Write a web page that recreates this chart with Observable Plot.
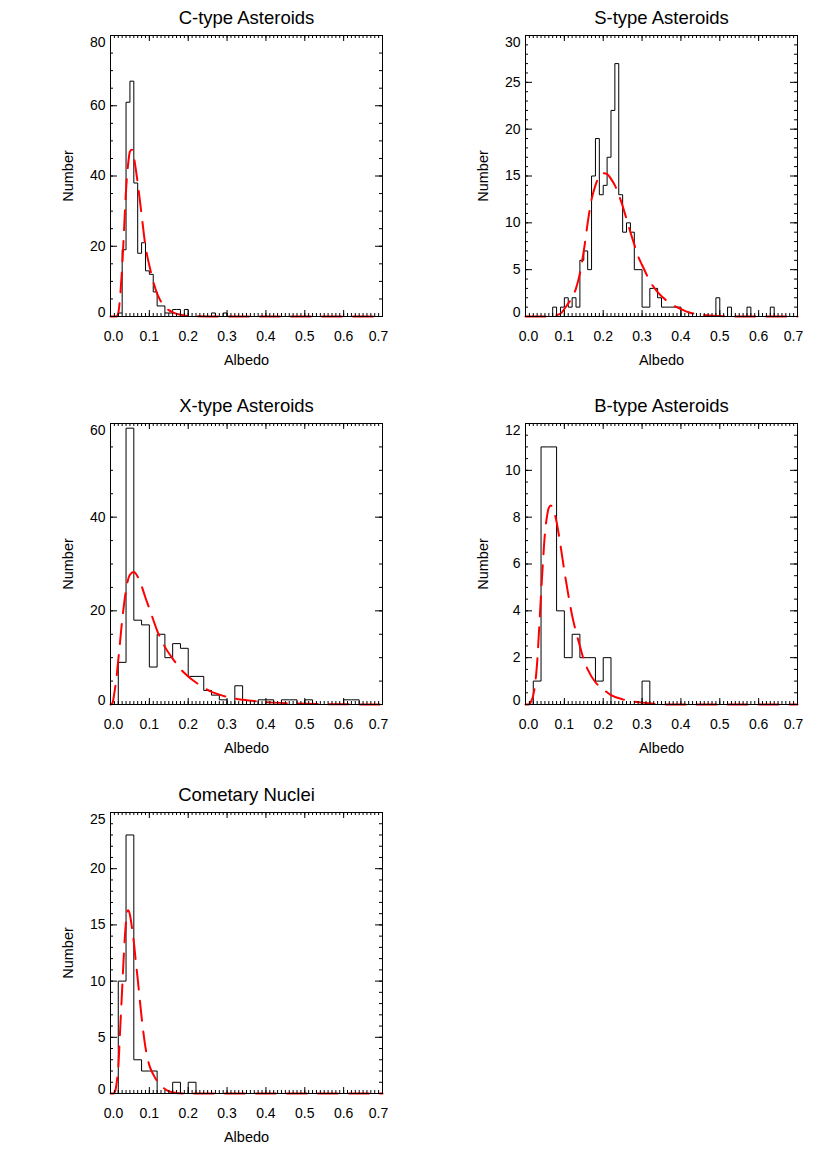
<!DOCTYPE html>
<html><head><meta charset="utf-8">
<script src="https://cdn.jsdelivr.net/npm/d3@7"></script>
<script src="https://cdn.jsdelivr.net/npm/@observablehq/plot@0.6"></script>
<style>
body{margin:0;background:#fff;}
#chart{position:relative;width:830px;height:1163px;font-family:"Liberation Sans",Arial,Helvetica,sans-serif;}
#chart svg{position:absolute;overflow:visible;}
</style></head><body><div id="chart"></div>
<script>
// ---- shared axis values ----
const albedoTicks = [0.0, 0.1, 0.2, 0.3, 0.4, 0.5, 0.6, 0.7];
const albedoTickLabels = ["0.0", "0.1", "0.2", "0.3", "0.4", "0.5", "0.6", "0.7"];
const albedoMinorStep = 0.01;

// ---- C-type (bins of 0.01 starting at 0.00) ----
const cTitle = "C-type Asteroids";
const cBinWidth = 0.01;
const cCounts = [0,0,1,19,61,67,38,18,21,13,12,7,3,3,1,1,2,2,0,2,0,0,0,0,0,0,1,0,0,1,
  0,0,0,0,0,0,0,0,0,0,0,0,0,0,0,0,0,0,0,0,0,0,0,0,0,0,0,0,0,0,0,0,0,0,0,0,0,0,0,0];
const cFitX = [0, 0.015, 0.02, 0.025, 0.03, 0.035, 0.04, 0.045, 0.05, 0.055, 0.06, 0.065, 0.07, 0.08, 0.09, 0.10, 0.11, 0.12, 0.13, 0.14, 0.15, 0.16, 0.18, 0.20, 0.25, 0.70];
const cFitY = [0, 0, 1, 6, 14, 25, 36, 43, 47, 47.5, 45.5, 42, 38, 29, 20, 14.5, 10, 6.5, 4.2, 2.8, 1.8, 1.2, 0.5, 0.15, 0, 0];
const cYTicks = [0, 20, 40, 60, 80];
const cYMinor = 5;

// ---- S-type (bins of 0.01) ----
const sTitle = "S-type Asteroids";
const sBinWidth = 0.01;
const sCounts = [0,0,0,0,0,0,0,1,0,1,2,1,2,1,6,7,5,15,19,13,14,17,22,27,13,9,10,9,5,5,
  1,1,3,3,2,1,1,1,1,1,0,0,0,0,0,0,0,0,0,2,0,0,1,0,0,0,0,1,0,0,0,0,0,1,0,0,0,0,0,0];
const sFitX = [0, 0.06, 0.09, 0.10, 0.11, 0.12, 0.13, 0.14, 0.15, 0.16, 0.17, 0.18, 0.19, 0.20, 0.21, 0.22, 0.23, 0.24, 0.25, 0.26, 0.27, 0.28, 0.29, 0.30, 0.32, 0.34, 0.36, 0.38, 0.40, 0.42, 0.45, 0.50, 0.55, 0.70];
const sFitY = [0, 0, 0.3, 0.8, 1.4, 2.0, 3.0, 4.6, 7.0, 10.0, 12.5, 14.0, 15.0, 15.3, 15.2, 14.7, 14.0, 13.0, 11.8, 10.4, 9.0, 7.7, 6.4, 5.5, 3.8, 2.6, 1.8, 1.2, 0.8, 0.45, 0.2, 0.05, 0, 0];
const sYTicks = [0, 5, 10, 15, 20, 25, 30];
const sYMinor = 1;

// ---- X-type (bins of 0.02) ----
const xTitle = "X-type Asteroids";
const xBinWidth = 0.02;
const xCounts = [0,9,59,18,17,8,15,10,13,12,6,6,3,2,1,0,4,0,0,1,1,0,1,1,0,1,0,0,0,0,1,1,0,0,0];
const xFitX = [0, 0.005, 0.01, 0.015, 0.02, 0.025, 0.03, 0.035, 0.04, 0.05, 0.06, 0.07, 0.08, 0.09, 0.10, 0.12, 0.14, 0.16, 0.18, 0.20, 0.22, 0.24, 0.26, 0.28, 0.30, 0.34, 0.38, 0.42, 0.46, 0.50, 0.55, 0.60, 0.70];
const xFitY = [0, 0.3, 2.5, 5.5, 9.5, 13.7, 18, 21.5, 24.5, 27.7, 28.3, 27.3, 25.3, 22.8, 20.5, 15.8, 12.3, 9.8, 7.6, 6.0, 4.7, 3.6, 2.7, 2.1, 1.6, 1.0, 0.65, 0.4, 0.25, 0.15, 0.08, 0.04, 0];
const xYTicks = [0, 20, 40, 60];
const xYMinor = 5;

// ---- B-type (bins of 0.02) ----
const bTitle = "B-type Asteroids";
const bBinWidth = 0.02;
const bCounts = [0,1,11,11,4,2,3,2,2,1,2,0,0,0,0,1,0,0,0,0,0,0,0,0,0,0,0,0,0,0,0,0,0,0,0];
const bFitX = [0, 0.008, 0.015, 0.02, 0.025, 0.03, 0.035, 0.04, 0.045, 0.05, 0.055, 0.06, 0.065, 0.07, 0.08, 0.09, 0.10, 0.11, 0.12, 0.13, 0.14, 0.15, 0.16, 0.18, 0.20, 0.22, 0.25, 0.28, 0.32, 0.35, 0.70];
const bFitY = [0, 0, 0.15, 0.4, 0.9, 1.8, 3.2, 4.7, 6.1, 7.3, 8.0, 8.4, 8.5, 8.4, 7.8, 6.8, 5.7, 4.7, 3.8, 3.1, 2.5, 1.9, 1.5, 0.95, 0.65, 0.4, 0.22, 0.12, 0.05, 0, 0];
const bYTicks = [0, 2, 4, 6, 8, 10, 12];
const bYMinor = 0.5;

// ---- Cometary nuclei (bins of 0.02) ----
const kTitle = "Cometary Nuclei";
const kBinWidth = 0.02;
const kCounts = [0,10,23,3,2,2,0,0,1,0,1,0,0,0,0,0,0,0,0,0,0,0,0,0,0,0,0,0,0,0,0,0,0,0,0];
const kFitX = [0, 0.008, 0.012, 0.016, 0.02, 0.025, 0.03, 0.035, 0.04, 0.045, 0.05, 0.055, 0.06, 0.065, 0.07, 0.08, 0.09, 0.10, 0.11, 0.12, 0.13, 0.14, 0.15, 0.17, 0.20, 0.70];
const kFitY = [0, 0, 0.2, 1.0, 2.3, 5.8, 9.3, 12.8, 15.3, 16.3, 15.9, 14.8, 13.5, 11.8, 10.2, 6.8, 4.1, 2.5, 1.7, 1.1, 0.7, 0.4, 0.2, 0.05, 0, 0];
const kYTicks = [0, 5, 10, 15, 20, 25];
const kYMinor = 1;

const panels = [
  {title: cTitle, binW: cBinWidth, counts: cCounts, fx: cFitX, fy: cFitY, yTicks: cYTicks, yMinor: cYMinor, left: 0, top: 0},
  {title: sTitle, binW: sBinWidth, counts: sCounts, fx: sFitX, fy: sFitY, yTicks: sYTicks, yMinor: sYMinor, left: 415, top: 0},
  {title: xTitle, binW: xBinWidth, counts: xCounts, fx: xFitX, fy: xFitY, yTicks: xYTicks, yMinor: xYMinor, left: 0, top: 388},
  {title: bTitle, binW: bBinWidth, counts: bCounts, fx: bFitX, fy: bFitY, yTicks: bYTicks, yMinor: bYMinor, left: 415, top: 388},
  {title: kTitle, binW: kBinWidth, counts: kCounts, fx: kFitX, fy: kFitY, yTicks: kYTicks, yMinor: kYMinor, left: 0, top: 777}
];

const W = 415, H = 389, mL = 110, mR = 33, mT = 35, mB = 73;
const FW = W - mL - mR, FH = H - mT - mB;
const FONT = "Liberation Sans, Arial, Helvetica, sans-serif";
const chart = document.getElementById("chart");

for (const p of panels) {
  const steps = p.counts.map((c, i) => ({x: i * p.binW, y: c}));
  steps.push({x: 0.7, y: p.counts[p.counts.length - 1]});
  const fit = p.fx.map((x, i) => ({x, y: p.fy[i]}));
  const yMax = p.yTicks[p.yTicks.length - 1];
  const xMinor = d3.range(0, 0.70001, albedoMinorStep);
  const yMinor = d3.range(0, yMax + 1e-9, p.yMinor);
  const yLab = p.yTicks.map(String);
  const midY = p.yTicks.slice(1, -1);
  const midX = albedoTicks.slice(1, -1);

  const svg = Plot.plot({
    width: W, height: H,
    marginLeft: mL, marginRight: mR, marginTop: mT, marginBottom: mB,
    style: {fontFamily: FONT, background: "white", overflow: "visible"},
    x: {domain: [0, 0.7], axis: null},
    y: {domain: [0, yMax], axis: null},
    marks: [
      // histogram
      Plot.line(steps, {x: "x", y: "y", curve: "step-after", stroke: "black", strokeWidth: 1}),
      // fitted distribution
      Plot.line(fit, {x: "x", y: "y", curve: "monotone-x", stroke: "#ff0000", strokeWidth: 2, strokeDasharray: "20,11"}),
      // inward ticks, all four sides
      Plot.tickX(xMinor, {x: d => d, insetTop: FH - 3, stroke: "black"}),
      Plot.tickX(xMinor, {x: d => d, insetBottom: FH - 3, stroke: "black"}),
      Plot.tickX(albedoTicks, {x: d => d, insetTop: FH - 6, stroke: "black"}),
      Plot.tickX(albedoTicks, {x: d => d, insetBottom: FH - 6, stroke: "black"}),
      Plot.tickY(yMinor, {y: d => d, insetRight: FW - 3, stroke: "black"}),
      Plot.tickY(yMinor, {y: d => d, insetLeft: FW - 3, stroke: "black"}),
      Plot.tickY(p.yTicks, {y: d => d, insetRight: FW - 7, stroke: "black"}),
      Plot.tickY(p.yTicks, {y: d => d, insetLeft: FW - 7, stroke: "black"}),
      Plot.frame({stroke: "black", strokeWidth: 1}),
      // x tick labels
      Plot.text(midX, {x: d => d, text: d => albedoTickLabels[albedoTicks.indexOf(d)], frameAnchor: "bottom", dy: 20.5, lineAnchor: "middle", fontSize: 14, fill: "black"}),
      Plot.text([albedoTicks[0]], {x: d => d, text: [albedoTickLabels[0]], frameAnchor: "bottom", dx: 3, dy: 20.5, lineAnchor: "middle", fontSize: 14, fill: "black"}),
      Plot.text([albedoTicks[7]], {x: d => d, text: [albedoTickLabels[7]], frameAnchor: "bottom", dx: -4, dy: 20.5, lineAnchor: "middle", fontSize: 14, fill: "black"}),
      // y tick labels
      Plot.text(midY, {y: d => d, text: d => yLab[p.yTicks.indexOf(d)], frameAnchor: "left", textAnchor: "end", dx: -5, lineAnchor: "middle", fontSize: 14, fill: "black"}),
      Plot.text([0], {y: d => d, text: [yLab[0]], frameAnchor: "left", textAnchor: "end", dx: -5, dy: -3.5, lineAnchor: "middle", fontSize: 14, fill: "black"}),
      Plot.text([yMax], {y: d => d, text: [yLab[yLab.length - 1]], frameAnchor: "left", textAnchor: "end", dx: -5, dy: 7, lineAnchor: "middle", fontSize: 14, fill: "black"}),
      // titles and axis names
      Plot.text([p.title], {frameAnchor: "top", dy: -17, textAnchor: "middle", lineAnchor: "middle", fontSize: 18.5, fill: "black"}),
      Plot.text(["Number"], {frameAnchor: "left", dx: -42, rotate: -90, textAnchor: "middle", lineAnchor: "middle", fontSize: 14.5, fill: "black"}),
      Plot.text(["Albedo"], {frameAnchor: "bottom", dy: 43.5, textAnchor: "middle", lineAnchor: "middle", fontSize: 14.5, fill: "black"})
    ]
  });
  svg.style.left = p.left + "px";
  svg.style.top = p.top + "px";
  chart.appendChild(svg);
}
</script></body></html>
